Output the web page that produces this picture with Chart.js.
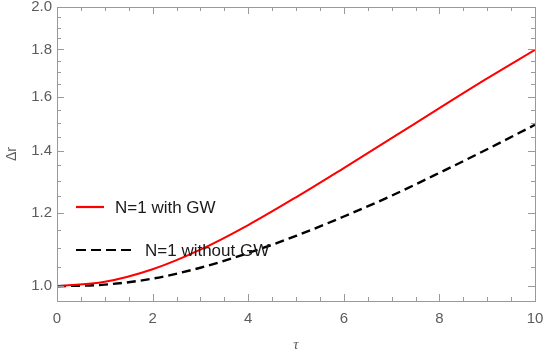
<!DOCTYPE html>
<html>
<head>
<meta charset="utf-8">
<script src="https://cdn.jsdelivr.net/npm/chart.js@4"></script>
<style>
  html, body { margin: 0; padding: 0; background: #fff; }
  #wrap { width: 545px; height: 355px; }
</style>
</head>
<body>
<div id="wrap"><canvas id="myChart" width="545" height="355"></canvas></div>
<script>
// proper time samples
const tau = [0, 1, 2, 3, 4, 5, 6, 7, 8, 9, 10];
// separation with and without the GW
const withGW = [1.000, 1.011, 1.043, 1.095, 1.164, 1.247, 1.341, 1.444, 1.556, 1.675, 1.798];
const withoutGW = [1.000, 1.004, 1.019, 1.047, 1.086, 1.133, 1.189, 1.252, 1.325, 1.405, 1.493];

const xTicks = [0, 2, 4, 6, 8, 10];
const xMinor = [0.5, 1, 1.5, 2.5, 3, 3.5, 4.5, 5, 5.5, 6.5, 7, 7.5, 8.5, 9, 9.5];
const yTicks = [1.0, 1.2, 1.4, 1.6, 1.8, 2.0];
const yMinor = [1.05, 1.1, 1.15, 1.25, 1.3, 1.35, 1.45, 1.5, 1.55, 1.65, 1.7, 1.75, 1.85, 1.9, 1.95];

const legendItems = [
  { label: "N=1 with GW", color: "#ff0000", dash: [] },
  { label: "N=1 without GW", color: "#000000", dash: [10, 5] }
];

const frameColor = "#9a9a9a";
const labelColor = "#5c5c5c";
const sans = "'Liberation Sans', Arial, sans-serif";

// frame with inward ticks on all four sides, plus the legend
const framePlugin = {
  id: "frame",
  afterDraw(chart) {
    const ctx = chart.ctx;
    const a = chart.chartArea;
    const x = chart.scales.x;
    const y = chart.scales.y;
    ctx.save();
    ctx.strokeStyle = frameColor;
    ctx.lineWidth = 1;
    ctx.strokeRect(Math.round(a.left) + 0.5, Math.round(a.top) + 0.5,
      Math.round(a.right - a.left), Math.round(a.bottom - a.top));

    const tickX = (v, len) => {
      const px = Math.round(x.getPixelForValue(v)) + 0.5;
      ctx.beginPath();
      ctx.moveTo(px, a.bottom); ctx.lineTo(px, a.bottom - len);
      ctx.moveTo(px, a.top); ctx.lineTo(px, a.top + len);
      ctx.stroke();
    };
    const tickY = (v, len) => {
      const py = Math.round(y.getPixelForValue(v)) + 0.5;
      ctx.beginPath();
      ctx.moveTo(a.left, py); ctx.lineTo(a.left + len, py);
      ctx.moveTo(a.right, py); ctx.lineTo(a.right - len, py);
      ctx.stroke();
    };
    xTicks.forEach(v => tickX(v, 7));
    xMinor.forEach(v => tickX(v, 4));
    yTicks.forEach(v => tickY(v, 7));
    yMinor.forEach(v => tickY(v, 4));

    // legend
    ctx.font = "17px " + sans;
    ctx.textBaseline = "middle";
    const rows = [
      { x0: 76, x1: 104, tx: 115, ty: 207 },
      { x0: 76, x1: 132, tx: 145, ty: 250 }
    ];
    legendItems.forEach((item, i) => {
      const r = rows[i];
      ctx.strokeStyle = item.color;
      ctx.lineWidth = 2.2;
      ctx.setLineDash(item.dash);
      ctx.beginPath();
      ctx.moveTo(r.x0, r.ty); ctx.lineTo(r.x1, r.ty);
      ctx.stroke();
      ctx.setLineDash([]);
      ctx.fillStyle = "#1a1a1a";
      ctx.fillText(item.label, r.tx, r.ty + 1);
    });
    ctx.restore();
  }
};

const ctx = document.getElementById("myChart").getContext("2d");

new Chart(ctx, {
  type: "line",
  data: {
    datasets: [
      {
        label: legendItems[0].label,
        data: tau.map((t, i) => ({ x: t, y: withGW[i] })),
        borderColor: "#ff0000",
        borderWidth: 2,
        pointRadius: 0,
        cubicInterpolationMode: "monotone"
      },
      {
        label: legendItems[1].label,
        data: tau.map((t, i) => ({ x: t, y: withoutGW[i] })),
        borderColor: "#000000",
        borderWidth: 2.4,
        borderDash: [9, 5],
        pointRadius: 0,
        cubicInterpolationMode: "monotone"
      }
    ]
  },
  options: {
    responsive: false,
    animation: false,
    layout: { padding: { top: 7, right: 10, left: 0, bottom: 0 } },
    plugins: {
      legend: { display: false },
      tooltip: { enabled: false }
    },
    scales: {
      x: {
        type: "linear",
        min: 0,
        max: 10,
        grid: { display: false, drawTicks: false },
        border: { display: false },
        afterBuildTicks: scale => {
          scale.ticks = xTicks.map(v => ({ value: v }));
        },
        // the "10" label may hang past the plot edge
        afterFit: scale => {
          scale.height = 54;
          scale.paddingLeft = 0;
          scale.paddingRight = 0;
        },
        ticks: {
          color: labelColor,
          padding: 9,
          maxRotation: 0,
          font: { family: sans, size: 15 },
          callback: v => String(v)
        },
        title: {
          display: true,
          text: "τ",
          color: labelColor,
          padding: { top: 8, bottom: 1 },
          font: { family: "'Liberation Serif', 'DejaVu Serif', serif", size: 15, style: "italic" }
        }
      },
      y: {
        type: "logarithmic",
        min: 0.964,
        max: 2.0,
        grid: { display: false, drawTicks: false },
        border: { display: false },
        afterBuildTicks: scale => {
          scale.ticks = yTicks.map(v => ({ value: v }));
        },
        // same for "2.0" above the top edge
        afterFit: scale => {
          scale.width = 57;
          scale.paddingTop = 0;
        },
        ticks: {
          color: labelColor,
          padding: 5,
          font: { family: sans, size: 15 },
          callback: v => Number(v).toFixed(1)
        },
        title: {
          display: true,
          text: "Δr",
          color: labelColor,
          padding: { top: 4, bottom: 0 },
          font: { family: sans, size: 14 }
        }
      }
    }
  },
  plugins: [framePlugin]
});
</script>
</body>
</html>
